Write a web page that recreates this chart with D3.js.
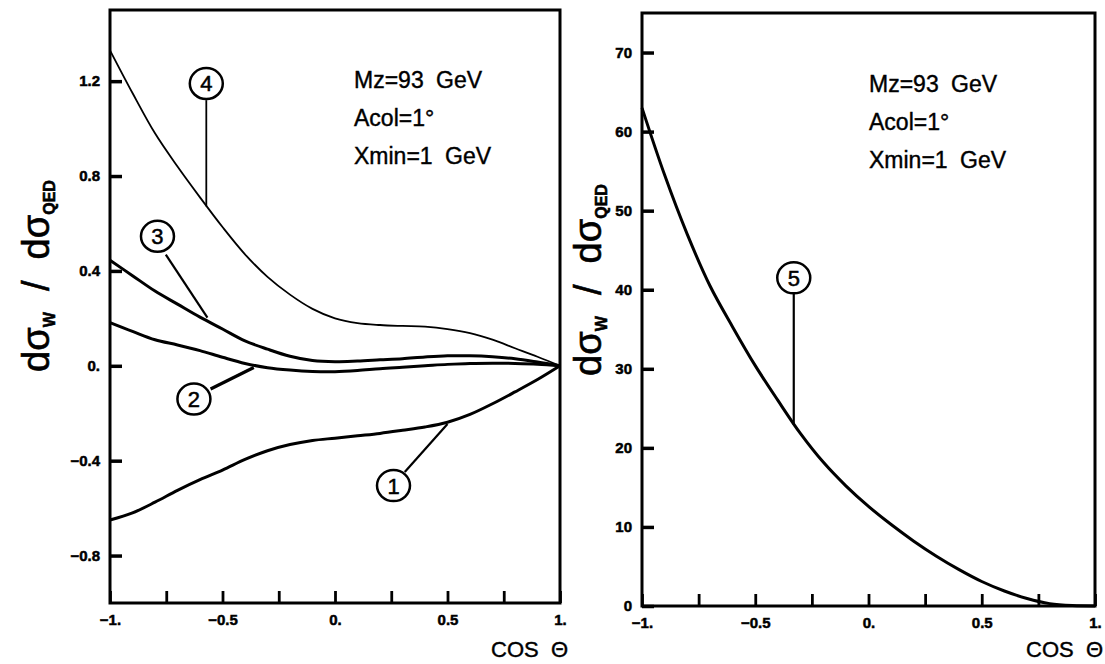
<!DOCTYPE html>
<html lang="en">
<head>
<meta charset="utf-8">
<script src="https://d3js.org/d3.v7.min.js"></script>
<style type="text/css">
body {
	margin: 0;
	background: white;
}
text {
	font-family: "Liberation Sans", Arial, sans-serif;
	fill: black;
}
.axis text {
	font-size: 15px;
	font-weight: bold;
	font-family: "Liberation Sans", Arial, sans-serif;
	stroke: black;
	stroke-width: 0.5px;
}
.axis line {
	stroke: black;
	stroke-width: 3.5px;
}
.axis path {
	display: none;
}
.note {
	font-size: 23px;
	word-spacing: 6px;
	stroke: black;
	stroke-width: 0.4px;
}
</style>
</head>
<body>
<script type="text/javascript">

// cos(theta) grid shared by all curves
var cosTheta = [-1, -0.9, -0.8, -0.7, -0.6, -0.5, -0.4, -0.3, -0.2, -0.1, 0, 0.1, 0.2, 0.3, 0.4, 0.5, 0.6, 0.7, 0.8, 0.9, 1];

// left panel curves (ratio dsigma_W / dsigma_QED)
var curve1 = [-0.65, -0.62, -0.575, -0.525, -0.48, -0.44, -0.395, -0.358, -0.332, -0.315, -0.305, -0.295, -0.285, -0.272, -0.258, -0.238, -0.205, -0.16, -0.11, -0.058, 0];
var curve2 = [0.182, 0.145, 0.11, 0.088, 0.064, 0.036, 0.01, -0.008, -0.018, -0.024, -0.025, -0.02, -0.012, -0.006, 0.0, 0.006, 0.01, 0.011, 0.01, 0.007, 0];
var curve3 = [0.445, 0.38, 0.315, 0.26, 0.205, 0.155, 0.105, 0.07, 0.04, 0.022, 0.017, 0.02, 0.025, 0.03, 0.037, 0.042, 0.042, 0.038, 0.03, 0.016, 0];
var curve4 = [1.33, 1.15, 0.98, 0.84, 0.71, 0.585, 0.47, 0.375, 0.3, 0.24, 0.2, 0.18, 0.172, 0.168, 0.165, 0.155, 0.138, 0.11, 0.074, 0.038, 0];

// right panel curve
var curve5 = [63, 54.5, 47, 40.5, 35.3, 30.4, 26, 21.8, 18.2, 15.2, 12.6, 10.3, 8.2, 6.3, 4.6, 3.1, 1.9, 0.95, 0.3, 0.05, 0];

// axis ticks
var xTicks = [-1, -0.75, -0.5, -0.25, 0, 0.25, 0.5, 0.75, 1];
var xTickLabels = {"-1": "\u22121.", "-0.5": "\u22120.5", "0": "0.", "0.5": "0.5", "1": "1."};
var yTicksLeft = [-0.8, -0.4, 0, 0.4, 0.8, 1.2];
var yTickLabelsLeft = {"-0.8": "\u22120.8", "-0.4": "\u22120.4", "0": "0.", "0.4": "0.4", "0.8": "0.8", "1.2": "1.2"};
var yTicksRight = [0, 10, 20, 30, 40, 50, 60, 70];

// labels: [number, cos at circle, value at circle, leader start cos, start value, end cos, end value, leader width]
var labelsLeft = [
	["1", 0.26, -0.505, 0.31, -0.448, 0.50, -0.245, 2.2],
	["2", -0.627, -0.14, -0.553, -0.098, -0.361, -0.007, 3.2],
	["3", -0.789, 0.546, -0.752, 0.469, -0.567, 0.203, 2.2],
	["4", -0.572, 1.19, -0.572, 1.12, -0.572, 0.672, 1.8]
];
var labelsRight = [
	["5", -0.33, 41.5, -0.33, 39.6, -0.33, 22.9, 2.2]
];
var notes = ["Mz=93 GeV", "Acol=1\u00b0", "Xmin=1 GeV"];

var width = 1105;
var height = 664;

var svg = d3.select("body")
	.append("svg")
	.attr("width", width)
	.attr("height", height);

function drawPanel(box, yDomain, yTicks, yFormat, curves, labels, noteX, noteY) {
	var x = d3.scaleLinear().domain([-1, 1]).range([box.left, box.right]);
	var y = d3.scaleLinear().domain(yDomain).range([box.bottom, box.top]);
	var g = svg.append("g");

	// y axis, ticks pointing inwards
	g.append("g")
		.attr("class", "axis")
		.attr("transform", "translate(" + box.left + ",0)")
		.call(d3.axisLeft(y).tickValues(yTicks).tickSize(-12).tickPadding(10).tickFormat(yFormat));

	// x axis, ticks pointing inwards, labels every 0.5
	var xAxis = g.append("g")
		.attr("class", "axis")
		.attr("transform", "translate(0," + box.bottom + ")")
		.call(d3.axisBottom(x).tickValues(xTicks).tickSize(-12).tickPadding(11)
			.tickFormat(function(d) { return xTickLabels[d] || ""; }));
	xAxis.selectAll("line").style("stroke-width", "2.8px");

	// curves
	var line = d3.line()
		.x(function(d) { return x(d[0]); })
		.y(function(d) { return y(d[1]); })
		.curve(d3.curveCatmullRom);

	curves.forEach(function(c) {
		g.append("path")
			.datum(d3.zip(cosTheta, c.values))
			.attr("d", line)
			.style("fill", "none")
			.style("stroke", "black")
			.style("stroke-width", c.width)
			.style("stroke-linejoin", "round");
	});

	// numbered circles and leader lines
	labels.forEach(function(l) {
		g.append("line")
			.attr("x1", x(l[3])).attr("y1", y(l[4]))
			.attr("x2", x(l[5])).attr("y2", y(l[6]))
			.style("stroke", "black")
			.style("stroke-width", l[7]);
		g.append("ellipse")
			.attr("cx", x(l[1]))
			.attr("cy", y(l[2]))
			.attr("rx", 16.5)
			.attr("ry", 15.5)
			.style("fill", "white")
			.style("stroke", "black")
			.style("stroke-width", 2.5);
		g.append("text")
			.attr("x", x(l[1]))
			.attr("y", y(l[2]))
			.attr("dy", "0.36em")
			.attr("text-anchor", "middle")
			.style("font-size", "22px")
			.style("stroke", "black")
			.style("stroke-width", "0.5px")
			.text(l[0]);
	});

	// frame
	g.append("rect")
		.attr("x", box.left)
		.attr("y", box.top)
		.attr("width", box.right - box.left)
		.attr("height", box.bottom - box.top)
		.style("fill", "none")
		.style("stroke", "black")
		.style("stroke-width", 3);

	// notes
	g.selectAll("text.note")
		.data(notes)
		.enter()
		.append("text")
		.attr("class", "note")
		.attr("x", noteX)
		.attr("y", function(d, i) { return noteY + i * 38; })
		.attr("dy", "0.36em")
		.text(function(d) { return d; });

	// x axis title
	g.append("text")
		.attr("x", box.right + 8)
		.attr("y", 657)
		.attr("text-anchor", "end")
		.style("font-size", "22px")
		.style("word-spacing", "6px")
		.style("stroke", "black")
		.style("stroke-width", "0.4px")
		.text("COS \u0398");
}

function yTitle(cx, cy) {
	var t = svg.append("text")
		.attr("transform", "translate(" + cx + "," + cy + ") rotate(-90)")
		.attr("text-anchor", "middle")
		.attr("dy", "0.3em")
		.style("font-size", "38px")
		.style("stroke", "black")
		.style("stroke-width", "0.6px");
	t.append("tspan").text("d\u03c3");
	t.append("tspan").attr("dy", 6).style("font-size", "16px").style("font-weight", "bold").text("W");
	t.append("tspan").attr("dy", -6).style("white-space", "pre").text("  /  ");
	t.append("tspan").text("d\u03c3");
	t.append("tspan").attr("dy", 6).style("font-size", "16px").style("font-weight", "bold").text("QED");
}

drawPanel({left: 110, right: 560, top: 10, bottom: 603}, [-1, 1.5], yTicksLeft,
	function(d) { return yTickLabelsLeft[d]; },
	[{values: curve1, width: 3}, {values: curve2, width: 3}, {values: curve3, width: 3}, {values: curve4, width: 1.8}],
	labelsLeft, 354, 80);

drawPanel({left: 642, right: 1095, top: 13, bottom: 606}, [0, 75], yTicksRight, String,
	[{values: curve5, width: 3}],
	labelsRight, 869, 84);

yTitle(38, 276);
yTitle(590, 280);

</script>
</body>
</html>
